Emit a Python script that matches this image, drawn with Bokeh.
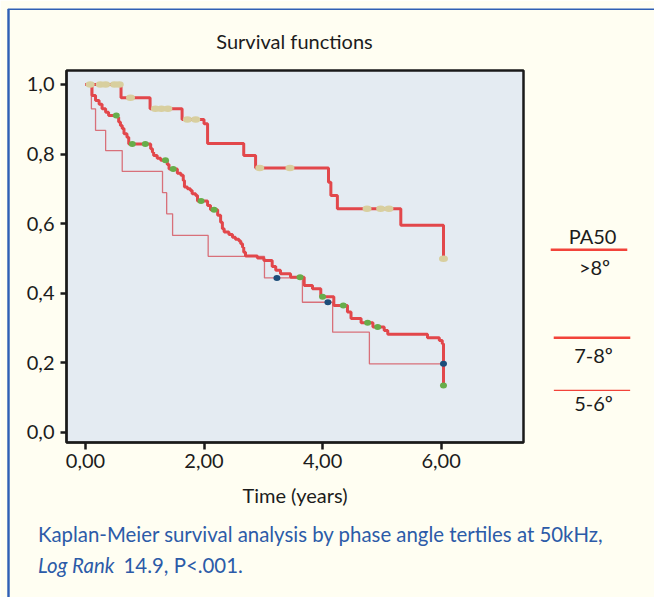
from bokeh.plotting import figure
from bokeh.models import Label, FixedTicker, Range1d
from bokeh.embed import file_html
from bokeh.resources import INLINE

# ---------------- data ----------------
# PA50 > 8º (thick, upper curve)
g1_time = [0.0, 0.60, 1.09, 1.63, 2.00, 2.06, 2.67, 2.87, 4.10, 4.14, 4.25, 5.32, 6.04]
g1_surv = [1.0, 0.962, 0.930, 0.899, 0.887, 0.830, 0.796, 0.760, 0.719, 0.681, 0.643, 0.595, 0.499]
g1_cens_time = [0.08, 0.25, 0.34, 0.49, 0.57, 0.76, 1.18, 1.28, 1.39, 1.72, 1.86, 2.94, 3.45, 4.75, 4.98, 5.12, 6.04]
g1_cens_surv = [1.0, 1.0, 1.0, 1.0, 1.0, 0.962, 0.930, 0.930, 0.930, 0.899, 0.899, 0.760, 0.760, 0.643, 0.643, 0.643, 0.499]

# PA50 7-8º (thick, middle curve)
g2_time = [0.0, 0.11, 0.17, 0.23, 0.28, 0.34, 0.39, 0.54, 0.56, 0.59, 0.62, 0.65, 0.70, 0.73,
           1.10, 1.13, 1.15, 1.21, 1.27, 1.38, 1.41, 1.55, 1.61, 1.65, 1.67, 1.72, 1.77, 1.80,
           1.86, 1.89, 2.06, 2.11, 2.23, 2.28, 2.31, 2.34, 2.42, 2.48, 2.53, 2.59, 2.62, 2.65,
           2.67, 2.70, 2.90, 3.01, 3.15, 3.21, 3.29, 3.46, 3.69, 3.83, 3.97, 4.19, 4.42, 4.48,
           4.65, 4.85, 5.04, 5.10, 5.77, 5.97, 6.02, 6.04]
g2_surv = [1.0, 0.968, 0.954, 0.943, 0.930, 0.920, 0.911, 0.906, 0.892, 0.882, 0.873, 0.858, 0.848, 0.829,
           0.815, 0.805, 0.796, 0.788, 0.782, 0.770, 0.757, 0.745, 0.739, 0.724, 0.705, 0.700, 0.695, 0.686,
           0.681, 0.665, 0.652, 0.640, 0.624, 0.604, 0.585, 0.576, 0.569, 0.561, 0.555, 0.550, 0.542, 0.532,
           0.518, 0.507, 0.501, 0.494, 0.477, 0.466, 0.456, 0.446, 0.422, 0.413, 0.390, 0.365, 0.346, 0.327,
           0.315, 0.303, 0.293, 0.282, 0.272, 0.264, 0.255, 0.135]
g2_cens_time = [0.52, 0.79, 1.01, 1.35, 1.48, 1.95, 2.17, 3.62, 4.00, 4.35, 4.76, 4.93, 6.04]
g2_cens_surv = [0.911, 0.829, 0.829, 0.782, 0.757, 0.665, 0.640, 0.446, 0.390, 0.365, 0.315, 0.303, 0.135]

# PA50 5-6º (thin, lower curve)
g3_time = [0.0, 0.10, 0.17, 0.34, 0.62, 1.30, 1.37, 1.47, 2.07, 3.02, 3.66, 4.17, 4.79, 6.04]
g3_surv = [1.0, 0.930, 0.868, 0.810, 0.750, 0.689, 0.628, 0.566, 0.506, 0.444, 0.374, 0.288, 0.197, 0.197]
g3_cens_time = [3.23, 4.09, 6.04]
g3_cens_surv = [0.444, 0.374, 0.197]

x_ticks = [0, 2, 4, 6]
x_tick_labels = ["0,00", "2,00", "4,00", "6,00"]
y_ticks = [0.0, 0.2, 0.4, 0.6, 0.8, 1.0]
y_tick_labels = ["0,0", "0,2", "0,4", "0,6", "0,8", "1,0"]

legend_title = "PA50"
legend_labels = [">8º", "7-8º", "5-6º"]
title_text = "Survival functions"
x_label = "Time (years)"
caption_1 = "Kaplan-Meier survival analysis by phase angle tertiles at 50kHz,"
caption_2a = "Log Rank"
caption_2b = "14.9, P<.001."

# ---------------- layout ----------------
W, H = 654, 597
ML, MR, MT, MB = 66, 131, 70, 155
X0, X1 = -0.32, 7.39
Y0, Y1 = -0.029, 1.040

FONT = "Lato"
TXT = "#1c1c1c"
BLUE = "#2c5ba8"
RED = "#e2474b"
PINK = "#d8707a"
LEG_RED = "#f2433a"
BORDER = "#2f5fb5"
TEXT_DY = -9  # renderer places the alphabetic anchor slightly lower than the nominal baseline

p = figure(width=W, height=H, output_backend="svg", toolbar_location=None,
           x_range=Range1d(X0, X1), y_range=Range1d(Y0, Y1),
           min_border_left=ML, min_border_right=MR, min_border_top=MT, min_border_bottom=MB)
p.background_fill_color = "#e4ebf2"
p.border_fill_color = "#fffef2"
p.outline_line_color = "#1a1a1a"
p.outline_line_width = 2.5
p.xgrid.visible = False
p.ygrid.visible = False

for ax in (p.xaxis, p.yaxis):
    ax.minor_tick_line_color = None
    ax.major_tick_in = 0
    ax.major_tick_line_width = 2.5
    ax.major_tick_line_color = "#1a1a1a"
    ax.axis_line_color = "#1a1a1a"
    ax.axis_line_width = 2
    ax.major_label_text_font = FONT
    ax.major_label_text_font_size = "20px"
    ax.major_label_text_color = TXT

p.xaxis.ticker = FixedTicker(ticks=x_ticks)
p.xaxis.major_label_overrides = dict(zip(x_ticks, x_tick_labels))
p.xaxis.major_tick_out = 7
p.xaxis.major_label_standoff = 4
p.xaxis.axis_label = x_label
p.xaxis.axis_label_text_font = FONT
p.xaxis.axis_label_text_font_size = "20px"
p.xaxis.axis_label_text_font_style = "normal"
p.xaxis.axis_label_text_color = TXT
p.xaxis.axis_label_standoff = 12

p.yaxis.ticker = FixedTicker(ticks=y_ticks)
p.yaxis.major_label_overrides = dict(zip(y_ticks, y_tick_labels))
p.yaxis.major_tick_out = 6
p.yaxis.major_label_standoff = 6

# curves
p.step(g3_time, g3_surv, mode="after", line_color=PINK, line_width=1.3)
p.step(g2_time, g2_surv, mode="after", line_color=RED, line_width=3)
p.step(g1_time, g1_surv, mode="after", line_color=RED, line_width=3)

# censor marks
p.ellipse(g1_cens_time, g1_cens_surv, width=9, height=6.5, width_units="screen", height_units="screen",
          fill_color="#d8cf9f", line_color=None)
p.ellipse(g2_cens_time, g2_cens_surv, width=7, height=6, width_units="screen", height_units="screen",
          fill_color="#67ad4a", line_color=None)
p.ellipse(g3_cens_time, g3_cens_surv, width=7, height=6, width_units="screen", height_units="screen",
          fill_color="#1d4d7a", line_color=None)

# texts and decorations live in the side panels (not clipped to the frame),
# positioned in canvas pixels (origin top-left)
def label(cx, cy, text, place, align="center", color=TXT, style="normal", size="20px"):
    p.add_layout(Label(x=cx, y=cy + TEXT_DY, x_units="canvas", y_units="canvas", text=text, text_align=align,
                       text_baseline="alphabetic", text_font=FONT, text_font_size=size,
                       text_color=color, text_font_style=style), place)

def bar(x0, x1, y0, y1, color, place):
    # a tiny blank label whose padded background forms a filled rectangle
    w, h = x1 - x0, y1 - y0
    fs = max(min(h, w) / 1.2, 0.8)
    ph = max(int(round((w - 0.3 * fs) / 2)), 0)
    pv = max(int(round((h - 1.2 * fs) / 2)), 0)
    p.add_layout(Label(x=(x0 + x1) / 2, y=(y0 + y1) / 2, x_units="canvas", y_units="canvas", text=" ",
                       text_align="center", text_baseline="middle", text_font=FONT,
                       text_font_size=f"{fs:.2f}px", background_fill_color=color, background_fill_alpha=1,
                       padding=dict(left=ph, right=ph, top=pv, bottom=pv)), place)

# title
label(294, 49, title_text, "above")

# legend
label(592, 244, legend_title, "right")
bar(550, 627, 248, 250.6, LEG_RED, "above")
label(594, 275, legend_labels[0], "right")
bar(553, 630, 336, 338.6, LEG_RED, "above")
label(593, 363.3, legend_labels[1], "right")
bar(553, 630, 389.3, 390.6, LEG_RED, "above")
label(593, 411.7, legend_labels[2], "above")

# caption
label(37.5, 542.7, caption_1, "below", align="left", color=BLUE, size="20.4px")
label(37.5, 573.3, caption_2a, "below", align="left", color=BLUE, style="italic", size="20.4px")
label(123, 573.3, caption_2b, "below", align="left", color=BLUE, size="20.4px")

# page border (left and top)
bar(7, 9, 8, H + 2, BORDER, "left")
bar(7, W + 2, 8, 9.6, BORDER, "above")

open("out.html", "w").write(file_html(p, INLINE))
